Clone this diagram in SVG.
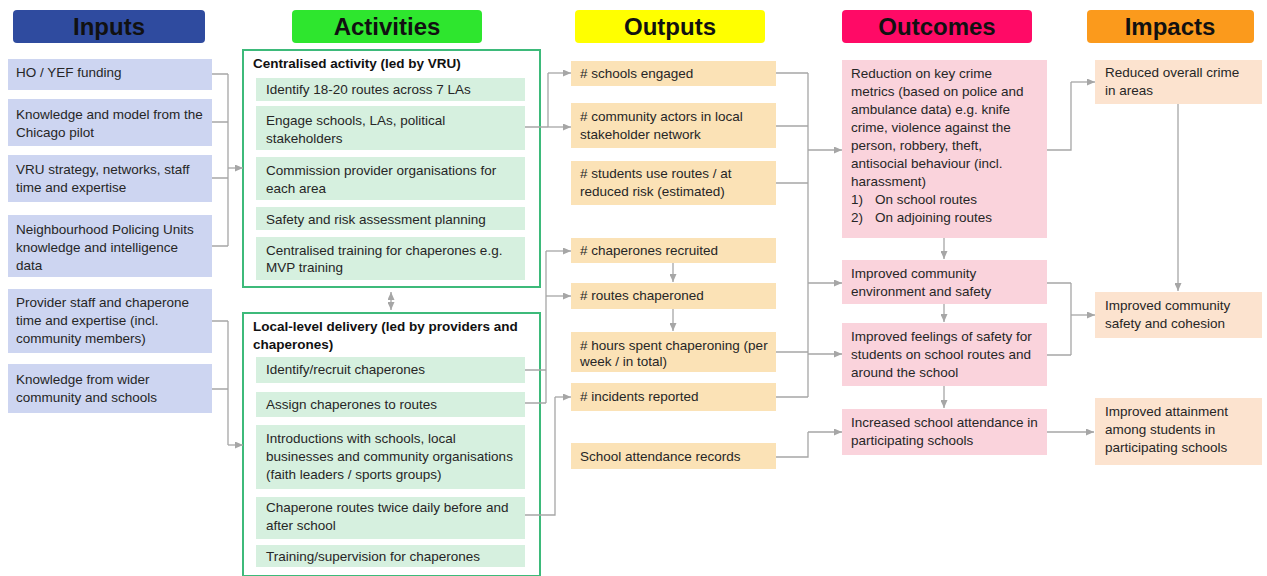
<svg xmlns="http://www.w3.org/2000/svg" width="1267" height="576" viewBox="0 0 1267 576">
<defs>
<marker id="ah" markerUnits="userSpaceOnUse" markerWidth="8" markerHeight="7" refX="8" refY="3.5" orient="auto-start-reverse">
<path d="M0,0 L8,3.5 L0,7 z" fill="#a6a6a6"/>
</marker>
<style>
.hd{font-family:"Liberation Sans",Arial,sans-serif;font-weight:bold;font-size:24px;fill:#111;text-anchor:middle}
.t{font-family:"Liberation Sans",Arial,sans-serif;font-size:13.5px;fill:#262626}
.tb{font-family:"Liberation Sans",Arial,sans-serif;font-size:13.5px;font-weight:bold;fill:#111}
.in{fill:#cdd5f1}
.ac{fill:#d6f0df}
.op{fill:#fbe2b6}
.oc{fill:#fad3dc}
.im{fill:#fce3cf}
.frame{fill:#fff;stroke:#3dba7a;stroke-width:2}
.cn{fill:none;stroke:#a6a6a6;stroke-width:1.3}
.ar{fill:none;stroke:#a6a6a6;stroke-width:1.3;marker-end:url(#ah)}
</style>
</defs>
<rect width="1267" height="576" fill="#fff"/>

<g id="headers">
<rect x="13" y="10" width="192" height="33" rx="4" fill="#2f4b9f"/>
<text class="hd" x="109" y="35">Inputs</text>
<rect x="292" y="10" width="190" height="33" rx="4" fill="#2ee62e"/>
<text class="hd" x="387" y="35">Activities</text>
<rect x="575" y="10" width="190" height="33" rx="4" fill="#ffff00"/>
<text class="hd" x="670" y="35">Outputs</text>
<rect x="842" y="10" width="190" height="33" rx="4" fill="#ff0a66"/>
<text class="hd" x="937" y="35">Outcomes</text>
<rect x="1087" y="10" width="167" height="33" rx="4" fill="#fb9a1c"/>
<text class="hd" x="1170" y="35">Impacts</text>
</g>

<g id="inputs">
<g id="in1"><rect class="in" x="8" y="59" width="204" height="31"/><text class="t" x="16" y="77">HO / YEF funding</text></g>
<g id="in2"><rect class="in" x="8" y="99" width="204" height="47"/><text class="t" x="16" y="119">Knowledge and model from the</text><text class="t" x="16" y="137">Chicago pilot</text></g>
<g id="in3"><rect class="in" x="8" y="155" width="204" height="47"/><text class="t" x="16" y="174">VRU strategy, networks, staff</text><text class="t" x="16" y="192">time and expertise</text></g>
<g id="in4"><rect class="in" x="8" y="215" width="204" height="62"/><text class="t" x="16" y="234">Neighbourhood Policing Units</text><text class="t" x="16" y="252">knowledge and intelligence</text><text class="t" x="16" y="270">data</text></g>
<g id="in5"><rect class="in" x="8" y="289" width="204" height="64"/><text class="t" x="16" y="307">Provider staff and chaperone</text><text class="t" x="16" y="325">time and expertise (incl.</text><text class="t" x="16" y="343">community members)</text></g>
<g id="in6"><rect class="in" x="8" y="364" width="204" height="49"/><text class="t" x="16" y="384">Knowledge from wider</text><text class="t" x="16" y="402">community and schools</text></g>
</g>

<g id="activities">
<g id="centralised">
<rect class="frame" x="243" y="50" width="297" height="237"/>
<text class="tb" x="253" y="68">Centralised activity (led by VRU)</text>
<g id="ac1"><rect class="ac" x="256" y="78" width="269" height="23"/><text class="t" x="266" y="94">Identify 18-20 routes across 7 LAs</text></g>
<g id="ac2"><rect class="ac" x="256" y="106" width="269" height="44"/><text class="t" x="266" y="125">Engage schools, LAs, political</text><text class="t" x="266" y="143">stakeholders</text></g>
<g id="ac3"><rect class="ac" x="256" y="157" width="269" height="43"/><text class="t" x="266" y="175">Commission provider organisations for</text><text class="t" x="266" y="193">each area</text></g>
<g id="ac4"><rect class="ac" x="256" y="207" width="269" height="23"/><text class="t" x="266" y="224">Safety and risk assessment planning</text></g>
<g id="ac5"><rect class="ac" x="256" y="237" width="269" height="43"/><text class="t" x="266" y="255">Centralised training for chaperones e.g.</text><text class="t" x="266" y="272">MVP training</text></g>
</g>
<g id="local">
<rect class="frame" x="243" y="313" width="297" height="263"/>
<text class="tb" x="253" y="331">Local-level delivery (led by providers and</text>
<text class="tb" x="253" y="349">chaperones)</text>
<g id="ac6"><rect class="ac" x="256" y="357" width="269" height="26"/><text class="t" x="266" y="374">Identify/recruit chaperones</text></g>
<g id="ac7"><rect class="ac" x="256" y="392" width="269" height="25"/><text class="t" x="266" y="409">Assign chaperones to routes</text></g>
<g id="ac8"><rect class="ac" x="256" y="425" width="269" height="64"/><text class="t" x="266" y="443">Introductions with schools, local</text><text class="t" x="266" y="461">businesses and community organisations</text><text class="t" x="266" y="479">(faith leaders / sports groups)</text></g>
<g id="ac9"><rect class="ac" x="256" y="497" width="269" height="42"/><text class="t" x="266" y="512">Chaperone routes twice daily before and</text><text class="t" x="266" y="530">after school</text></g>
<g id="ac10"><rect class="ac" x="256" y="545" width="269" height="22"/><text class="t" x="266" y="561">Training/supervision for chaperones</text></g>
</g>
</g>

<g id="outputs">
<g id="op1"><rect class="op" x="571" y="61" width="205" height="25"/><text class="t" x="580" y="78">#&#160;schools engaged</text></g>
<g id="op2"><rect class="op" x="571" y="103" width="205" height="45"/><text class="t" x="580" y="121">#&#160;community actors in local</text><text class="t" x="580" y="139">stakeholder network</text></g>
<g id="op3"><rect class="op" x="571" y="161" width="205" height="44"/><text class="t" x="580" y="178">#&#160;students use routes / at</text><text class="t" x="580" y="196">reduced risk (estimated)</text></g>
<g id="op4"><rect class="op" x="571" y="238" width="205" height="25"/><text class="t" x="580" y="255">#&#160;chaperones recruited</text></g>
<g id="op5"><rect class="op" x="571" y="283" width="205" height="26"/><text class="t" x="580" y="300">#&#160;routes chaperoned</text></g>
<g id="op6"><rect class="op" x="571" y="332" width="205" height="40"/><text class="t" x="580" y="350">#&#160;hours spent chaperoning (per</text><text class="t" x="580" y="366">week / in total)</text></g>
<g id="op7"><rect class="op" x="571" y="383" width="205" height="28"/><text class="t" x="580" y="401">#&#160;incidents reported</text></g>
<g id="op8"><rect class="op" x="571" y="443" width="205" height="26"/><text class="t" x="580" y="461">School attendance records</text></g>
</g>

<g id="outcomes">
<g id="oc1"><rect class="oc" x="842" y="60" width="205" height="178"/>
<text class="t" x="851" y="78">Reduction on key crime</text>
<text class="t" x="851" y="96">metrics (based on police and</text>
<text class="t" x="851" y="114">ambulance data) e.g. knife</text>
<text class="t" x="851" y="132">crime, violence against the</text>
<text class="t" x="851" y="150">person, robbery, theft,</text>
<text class="t" x="851" y="168">antisocial behaviour (incl.</text>
<text class="t" x="851" y="186">harassment)</text>
<text class="t" x="851" y="204">1)</text><text class="t" x="875" y="204">On school routes</text>
<text class="t" x="851" y="222">2)</text><text class="t" x="875" y="222">On adjoining routes</text>
</g>
<g id="oc2"><rect class="oc" x="842" y="260" width="205" height="44"/><text class="t" x="851" y="278">Improved community</text><text class="t" x="851" y="296">environment and safety</text></g>
<g id="oc3"><rect class="oc" x="842" y="323" width="205" height="63"/><text class="t" x="851" y="341">Improved feelings of safety for</text><text class="t" x="851" y="359">students on school routes and</text><text class="t" x="851" y="377">around the school</text></g>
<g id="oc4"><rect class="oc" x="842" y="409" width="205" height="46"/><text class="t" x="851" y="427">Increased school attendance in</text><text class="t" x="851" y="445">participating schools</text></g>
</g>

<g id="impacts">
<g id="im1"><rect class="im" x="1095" y="60" width="167" height="44"/><text class="t" x="1105" y="77">Reduced overall crime</text><text class="t" x="1105" y="95">in areas</text></g>
<g id="im2"><rect class="im" x="1095" y="292" width="167" height="46"/><text class="t" x="1105" y="310">Improved community</text><text class="t" x="1105" y="328">safety and cohesion</text></g>
<g id="im3"><rect class="im" x="1095" y="398" width="167" height="67"/><text class="t" x="1105" y="416">Improved attainment</text><text class="t" x="1105" y="434">among students in</text><text class="t" x="1105" y="452">participating schools</text></g>
</g>

<g id="connectors">
<path class="cn" d="M212,74 H228 M212,122 H228 M212,178 H228 M212,246 H228 M228,74 V246"/>
<path class="ar" d="M228,168 H243"/>
<path class="cn" d="M212,321 H228 M212,389 H228 M228,321 V445"/>
<path class="ar" d="M228,445 H243"/>
<path class="ar" d="M391,292 V310" marker-start="url(#ah)"/>
<path class="cn" d="M525,127 H548 M548,73 V127"/>
<path class="ar" d="M548,73 H571"/>
<path class="ar" d="M548,127 H571"/>
<path class="cn" d="M525,370 H546 M525,403 H546 M546,251 V403"/>
<path class="ar" d="M546,251 H571"/>
<path class="ar" d="M546,296 H571"/>
<path class="cn" d="M525,515 H555 V397"/>
<path class="ar" d="M555,397 H571"/>
<path class="ar" d="M673,263 V282"/>
<path class="ar" d="M673,309 V331"/>
<path class="cn" d="M776,73 H808 M776,126 H808 M776,183 H808 M776,352 H808 M776,397 H808 M808,73 V397"/>
<path class="ar" d="M808,150 H842"/>
<path class="ar" d="M808,283 H842"/>
<path class="ar" d="M808,354 H842"/>
<path class="cn" d="M776,457 H808 V432"/>
<path class="ar" d="M808,432 H842"/>
<path class="ar" d="M944,238 V259"/>
<path class="ar" d="M944,304 V322"/>
<path class="ar" d="M944,386 V408"/>
<path class="cn" d="M1047,150 H1071 V82"/>
<path class="ar" d="M1071,82 H1095"/>
<path class="ar" d="M1178,104 V291"/>
<path class="cn" d="M1047,283 H1071 M1047,355 H1071 M1071,283 V355"/>
<path class="ar" d="M1071,315 H1095"/>
<path class="ar" d="M1047,432 H1094"/>
</g>
</svg>
